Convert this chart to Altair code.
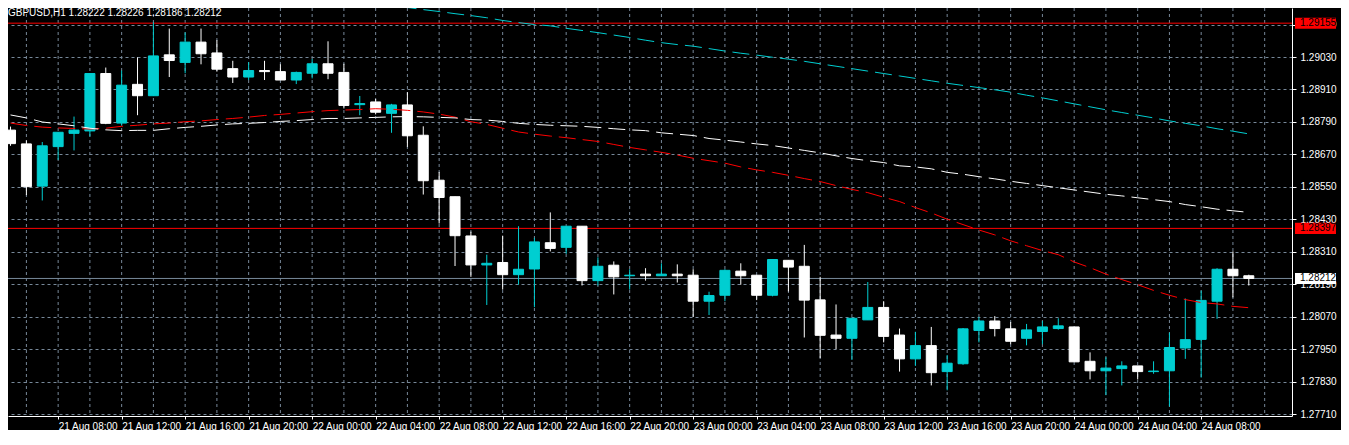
import altair as alt
import pandas as pd

# ---------------- data ----------------
symbol = "GBPUSD,H1"
first_bar = "2017-08-21 05:00"   # hourly bars

opens = [1.28760, 1.28709, 1.28553, 1.28699, 1.28748, 1.28757, 1.28969, 1.28786, 1.28929, 1.28887,
         1.29038, 1.29010, 1.29085, 1.29045, 1.28987, 1.28956, 1.28980, 1.28976, 1.28945, 1.28970,
         1.29005, 1.28973, 1.28854, 1.28864, 1.28822, 1.28853, 1.28741, 1.28575, 1.28514, 1.28369,
         1.28262, 1.28271, 1.28226, 1.28247, 1.28344, 1.28327, 1.28405, 1.28204, 1.28261, 1.28222,
         1.28228, 1.28222, 1.28228, 1.28224, 1.28128, 1.28150, 1.28239, 1.28224, 1.28150, 1.28279,
         1.28257, 1.28133, 1.28003, 1.27991, 1.28059, 1.28105, 1.28003, 1.27915, 1.27964, 1.27868,
         1.27897, 1.28020, 1.28055, 1.28026, 1.27991, 1.28016, 1.28027, 1.28033, 1.27906, 1.27871,
         1.27879, 1.27889, 1.27868, 1.27871, 1.27955, 1.27987, 1.28128, 1.28246, 1.28222]
highs = [1.28773, 1.28722, 1.28716, 1.28752, 1.28810, 1.28969, 1.28991, 1.28980, 1.29029, 1.29159,
         1.29135, 1.29121, 1.29135, 1.29092, 1.29016, 1.29011, 1.29016, 1.29003, 1.28976, 1.29023,
         1.29088, 1.29005, 1.28886, 1.28875, 1.28857, 1.28900, 1.28774, 1.28605, 1.28514, 1.28385,
         1.28300, 1.28370, 1.28405, 1.28362, 1.28456, 1.28405, 1.28405, 1.28290, 1.28275, 1.28246,
         1.28250, 1.28268, 1.28264, 1.28246, 1.28163, 1.28246, 1.28268, 1.28224, 1.28282, 1.28279,
         1.28336, 1.28218, 1.28116, 1.28065, 1.28199, 1.28128, 1.28027, 1.28015, 1.28033, 1.27929,
         1.28029, 1.28070, 1.28073, 1.28051, 1.28044, 1.28055, 1.28065, 1.28033, 1.27939, 1.27921,
         1.27906, 1.27889, 1.27906, 1.28012, 1.28138, 1.28167, 1.28250, 1.28312, 1.28226]
lows = [1.28702, 1.28520, 1.28500, 1.28650, 1.28685, 1.28737, 1.28782, 1.28776, 1.28815, 1.28887,
        1.28956, 1.28970, 1.29003, 1.28976, 1.28934, 1.28945, 1.28945, 1.28945, 1.28930, 1.28951,
        1.28948, 1.28840, 1.28815, 1.28818, 1.28750, 1.28698, 1.28522, 1.28415, 1.28258, 1.28218,
        1.28114, 1.28171, 1.28189, 1.28106, 1.28312, 1.28303, 1.28186, 1.28186, 1.28153, 1.28171,
        1.28204, 1.28222, 1.28197, 1.28070, 1.28077, 1.28128, 1.28189, 1.28132, 1.28146, 1.28164,
        1.27994, 1.27918, 1.27951, 1.27911, 1.28059, 1.27976, 1.27868, 1.27889, 1.27817, 1.27799,
        1.27893, 1.27976, 1.27998, 1.27969, 1.27965, 1.27969, 1.28023, 1.27904, 1.27839, 1.27781,
        1.27817, 1.27839, 1.27860, 1.27739, 1.27915, 1.27846, 1.28063, 1.28142, 1.28186]
closes = [1.28710, 1.28551, 1.28702, 1.28752, 1.28760, 1.28969, 1.28785, 1.28926, 1.28887, 1.29034,
          1.29017, 1.29085, 1.29042, 1.28985, 1.28956, 1.28980, 1.28976, 1.28945, 1.28973, 1.29005,
          1.28970, 1.28851, 1.28858, 1.28826, 1.28853, 1.28739, 1.28573, 1.28511, 1.28370, 1.28262,
          1.28268, 1.28226, 1.28246, 1.28347, 1.28323, 1.28405, 1.28204, 1.28257, 1.28218, 1.28224,
          1.28222, 1.28228, 1.28222, 1.28128, 1.28149, 1.28242, 1.28222, 1.28150, 1.28282, 1.28254,
          1.28132, 1.28002, 1.27991, 1.28065, 1.28105, 1.27998, 1.27915, 1.27964, 1.27864, 1.27899,
          1.28026, 1.28055, 1.28027, 1.27980, 1.28022, 1.28033, 1.28037, 1.27904, 1.27871, 1.27881,
          1.27889, 1.27868, 1.27870, 1.27957, 1.27986, 1.28131, 1.28246, 1.28222, 1.28212]

ma_red = [1.28786, 1.28777, 1.28771, 1.28768, 1.28766, 1.28764, 1.28767, 1.28774, 1.28778, 1.28783,
          1.28786, 1.28791, 1.28794, 1.28799, 1.28803, 1.28808, 1.28814, 1.28818, 1.28823, 1.28828,
          1.28832, 1.28834, 1.28836, 1.28839, 1.28837, 1.28833, 1.28827, 1.28819, 1.28808, 1.28791,
          1.28781, 1.28767, 1.28753, 1.28745, 1.28738, 1.28732, 1.28725, 1.28718, 1.28707, 1.28696,
          1.28687, 1.28678, 1.28668, 1.28656, 1.28647, 1.28638, 1.28624, 1.28613, 1.28604, 1.28593,
          1.28581, 1.28570, 1.28555, 1.28541, 1.28529, 1.28512, 1.28496, 1.28474, 1.28454, 1.28431,
          1.28411, 1.28391, 1.28373, 1.28351, 1.28333, 1.28315, 1.28300, 1.28273, 1.28252, 1.28228,
          1.28208, 1.28189, 1.28168, 1.28150, 1.28134, 1.28123, 1.28118, 1.28109, 1.28104]
ma_white = [1.28816, 1.28805, 1.28790, 1.28783, 1.28776, 1.28767, 1.28761, 1.28758, 1.28759, 1.28759,
            1.28765, 1.28770, 1.28774, 1.28779, 1.28783, 1.28785, 1.28788, 1.28792, 1.28795, 1.28799,
            1.28803, 1.28803, 1.28805, 1.28807, 1.28809, 1.28810, 1.28809, 1.28807, 1.28805, 1.28799,
            1.28797, 1.28792, 1.28785, 1.28781, 1.28778, 1.28776, 1.28774, 1.28770, 1.28765, 1.28761,
            1.28758, 1.28750, 1.28745, 1.28740, 1.28729, 1.28723, 1.28716, 1.28709, 1.28703, 1.28694,
            1.28685, 1.28676, 1.28665, 1.28655, 1.28647, 1.28640, 1.28628, 1.28624, 1.28617, 1.28604,
            1.28597, 1.28588, 1.28580, 1.28571, 1.28563, 1.28555, 1.28547, 1.28539, 1.28531, 1.28523,
            1.28517, 1.28510, 1.28503, 1.28496, 1.28485, 1.28477, 1.28468, 1.28462, 1.28456]
ma_cyan_first_bar = 20   # visible part starts at bar 20
ma_cyan = [1.29244, 1.29236, 1.29232, 1.29226, 1.29219, 1.29213, 1.29205, 1.29198, 1.29190, 1.29183,
           1.29175, 1.29165, 1.29157, 1.29150, 1.29145, 1.29136, 1.29128, 1.29120, 1.29111, 1.29102,
           1.29092, 1.29083, 1.29076, 1.29070, 1.29061, 1.29052, 1.29044, 1.29037, 1.29029, 1.29022,
           1.29014, 1.29005, 1.28996, 1.28987, 1.28978, 1.28969, 1.28960, 1.28951, 1.28942, 1.28933,
           1.28925, 1.28917, 1.28909, 1.28900, 1.28889, 1.28879, 1.28868, 1.28857, 1.28846, 1.28835,
           1.28825, 1.28815, 1.28805, 1.28794, 1.28785, 1.28776, 1.28765, 1.28756, 1.28746]

grid_prices = [1.27710, 1.27830, 1.27950, 1.28070, 1.28190, 1.28310, 1.28430,
               1.28550, 1.28670, 1.28790, 1.28910, 1.29030, 1.29150]
red_levels = [1.29155, 1.28397]
bid_price = 1.28212

first_tick = "2017-08-21 04:00"     # labelled ticks every 4 hours
tick_labels = ["21 Aug 2017", "21 Aug 08:00", "21 Aug 12:00", "21 Aug 16:00", "21 Aug 20:00",
               "22 Aug 00:00", "22 Aug 04:00", "22 Aug 08:00", "22 Aug 12:00", "22 Aug 16:00",
               "22 Aug 20:00", "23 Aug 00:00", "23 Aug 04:00", "23 Aug 08:00", "23 Aug 12:00",
               "23 Aug 16:00", "23 Aug 20:00", "24 Aug 00:00", "24 Aug 04:00", "24 Aug 08:00"]
grid_first, grid_last = "2017-08-21 06:00", "2017-08-24 12:00"   # vertical grid every 2 hours

# ---------------- tables ----------------
def iso(ts):
    return ts.strftime("%Y-%m-%dT%H:%M:%SZ")

bar_times = pd.date_range(first_bar, periods=len(opens), freq="h")
bars = pd.DataFrame({"t": [iso(t) for t in bar_times], "open": opens, "high": highs,
                     "low": lows, "close": closes})
bars["dir"] = ["up" if c >= o else "down" for o, c in zip(opens, closes)]

red_df = pd.DataFrame({"t": [iso(t) for t in bar_times], "v": ma_red})
white_df = pd.DataFrame({"t": [iso(t) for t in bar_times], "v": ma_white})
cyan_df = pd.DataFrame({"t": [iso(t) for t in bar_times[ma_cyan_first_bar:]], "v": ma_cyan})

vgrid = pd.DataFrame({"t": [iso(t) for t in pd.date_range(grid_first, grid_last, freq="2h")]})
red_df_levels = pd.DataFrame({"p": red_levels})
bid_df = pd.DataFrame({"p": [bid_price]})
boxes = pd.DataFrame({"p": red_levels + [bid_price],
                      "bg": ["#FF0000", "#FF0000", "#FFFFFF"],
                      "label": [f"{p:.5f}" for p in red_levels + [bid_price]]})
header = pd.DataFrame({"h": [f"{symbol}  {opens[-1]:.5f} {highs[-1]:.5f} {lows[-1]:.5f} {closes[-1]:.5f}"]})

# ---------------- scales & axes ----------------
PLOT_W, PLOT_H = 1284, 408
t0 = pd.Timestamp(first_bar, tz="UTC")
dom_start = t0 + pd.Timedelta(minutes=9, seconds=22.5)
dom_end = dom_start + pd.Timedelta(hours=PLOT_W / 16)
ms = lambda ts: int(ts.value // 10**6)
x_scale = alt.Scale(type="utc", domain=[ms(dom_start), ms(dom_end)])
y_scale = alt.Scale(domain=[1.27704, 1.29211], nice=False, zero=False)

tick_t0 = pd.Timestamp(first_tick, tz="UTC")
tick_ms = [ms(tick_t0 + pd.Timedelta(hours=4 * i)) for i in range(len(tick_labels))]
label_expr = "[" + ",".join(f"'{s}'" for s in tick_labels) + \
             f"][round((datum.value - {ms(tick_t0)}) / 14400000)]"

FONT = "Liberation Sans"
GRID = "#778899"
CYAN = "#00CED1"

x_axis = alt.Axis(values=tick_ms, labelExpr=label_expr, orient="bottom", grid=False, title=None,
                  tickSize=3, tickColor="white", domainColor="white", labelColor="white",
                  labelFont=FONT, labelFontSize=10, labelAlign="left", labelPadding=2,
                  labelOverlap=False, labelFlush=False, zindex=0)
y_axis = alt.Axis(orient="right", values=grid_prices, format=".5f", grid=True, gridColor=GRID,
                  gridDash=[3, 3], gridOpacity=1, tickSize=4, tickColor="white",
                  domainColor="white", labelColor="white", labelFont=FONT, labelFontSize=10,
                  labelPadding=4, labelOverlap=False, labelBaseline="middle", title=None, zindex=0)

X = lambda f: alt.X(f, scale=x_scale, axis=x_axis)
Y = lambda f: alt.Y(f, scale=y_scale, axis=y_axis)
dir_scale = alt.Scale(domain=["up", "down"], range=[CYAN, "#FFFFFF"])

# ---------------- layers ----------------
grid_v = alt.Chart(vgrid).mark_rule(color=GRID, strokeDash=[3, 3], strokeWidth=1).encode(
    x=X("t:T"))

red_lines = alt.Chart(red_df_levels).mark_rule(color="#FF0000", strokeWidth=1).encode(y=Y("p:Q"))
bid_line = alt.Chart(bid_df).mark_rule(color=GRID, strokeWidth=1).encode(y=Y("p:Q"))

wicks = alt.Chart(bars).mark_rule(strokeWidth=1).encode(
    x=X("t:T"), y=Y("low:Q"), y2="high:Q",
    color=alt.Color("dir:N", scale=dir_scale, legend=None))

bodies = alt.Chart(bars).mark_bar(size=10, strokeWidth=1, opacity=1).encode(
    x=X("t:T"), y=Y("open:Q"), y2="close:Q",
    color=alt.Color("dir:N", scale=dir_scale, legend=None),
    stroke=alt.Stroke("dir:N", scale=dir_scale, legend=None))

def ma_layer(df, col):
    return alt.Chart(df).mark_line(color=col, strokeWidth=1, strokeDash=[17, 7], clip=True).encode(
        x=X("t:T"), y=Y("v:Q"))

box_path = "M-1,-0.27L1,-0.27L1,0.27L-1,0.27Z"
label_boxes = alt.Chart(boxes).mark_point(shape=box_path, size=1681, filled=True, opacity=1,
                                          strokeWidth=0, clip=False).encode(
    x=alt.value(PLOT_W + 23.5), y=Y("p:Q"),
    fill=alt.Fill("bg:N", scale=None))

label_texts = alt.Chart(boxes).mark_text(align="left", baseline="middle", font=FONT, fontSize=10,
                                         color="black", clip=False).encode(
    x=alt.value(PLOT_W + 8), y=Y("p:Q"), text="label:N")

header_text = alt.Chart(header).mark_text(align="left", baseline="middle", font=FONT, fontSize=10,
                                          color="white").encode(
    x=alt.value(0), y=alt.value(5), text="h:N")

chart = alt.layer(grid_v, red_lines, bid_line, wicks, bodies,
                  ma_layer(red_df, "#FF0000"), ma_layer(white_df, "#FFFFFF"), ma_layer(cyan_df, CYAN),
                  label_boxes, label_texts, header_text).resolve_scale(
    color="independent", fill="independent", stroke="independent"
).properties(
    width=PLOT_W, height=PLOT_H,
    padding={"left": 0, "top": 0, "right": 49, "bottom": 14},
    autosize=alt.AutoSizeParams(type="none"),
    background="#000000",
).configure_view(stroke=None)

chart.save("out.html", embed_options={"renderer": "svg", "actions": False})
